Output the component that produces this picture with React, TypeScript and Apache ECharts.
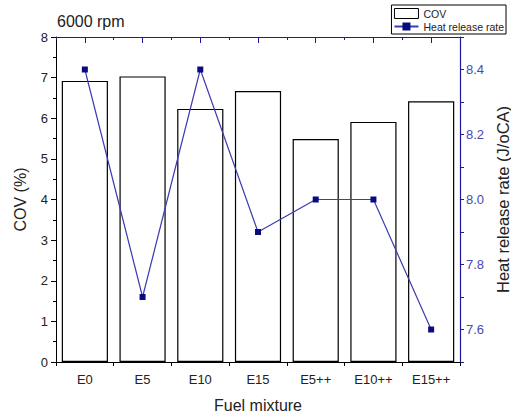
import React, { useEffect, useRef } from "react";
import * as echarts from "echarts";

const categories = ["E0", "E5", "E10", "E15", "E5++", "E10++", "E15++"];
const covValues = [6.92, 7.03, 6.23, 6.67, 5.49, 5.91, 6.42];
const heatValues = [8.4, 7.7, 8.4, 7.9, 8.0, 8.0, 7.6];

const FONT = "Liberation Sans, Arial, sans-serif";
const BLUE = "#1a1aa0";
const LINE_BLUE = "#3c3cb0";

export default function App() {
  const ref = useRef<HTMLDivElement>(null);
  useEffect(() => {
    const chart = echarts.init(ref.current!, null, { renderer: "svg" });
    chart.setOption({
      animation: false,
      textStyle: { fontFamily: FONT },
      title: {
        text: "6000 rpm",
        left: 52,
        top: 8,
        textStyle: { fontSize: 16, fontWeight: "normal", color: "#222", fontFamily: FONT },
      },
      legend: {
        orient: "vertical",
        right: 5,
        top: 5,
        padding: [3, 2, 2, 2],
        itemGap: 2,
        itemWidth: 24,
        itemHeight: 10,
        borderColor: "#000",
        borderWidth: 1,
        backgroundColor: "#fff",
        textStyle: { fontSize: 10.5, color: "#222" },
        data: [
          { name: "COV", icon: "rect", itemStyle: { color: "#fff", borderColor: "#000", borderWidth: 1 } },
          { name: "Heat release rate" },
        ],
      },
      grid: { left: 56, right: 51, top: 37, bottom: 57, containLabel: false, outerBoundsMode: "none" },
      xAxis: [
        {
          type: "category",
          data: categories,
          position: "bottom",
          axisLine: { lineStyle: { color: "#000", width: 1 } },
          axisTick: { show: true, length: 4, lineStyle: { color: "#000" } },
          axisLabel: { fontSize: 13, color: "#222", margin: 11 },
          name: "Fuel mixture",
          nameLocation: "middle",
          nameGap: 35,
          nameTextStyle: { fontSize: 16, color: "#222" },
        },
        {
          type: "category",
          data: categories,
          position: "top",
          axisLine: { lineStyle: { color: BLUE, width: 1.2 } },
          axisTick: { show: true, inside: true, length: 3, lineStyle: { color: BLUE } },
          axisLabel: { show: false },
        },
        {
          type: "category",
          data: categories,
          position: "top",
          axisLine: { show: false },
          axisTick: { show: true, inside: true, alignWithLabel: true, length: 6, lineStyle: { color: BLUE } },
          axisLabel: { show: false },
        },
      ],
      yAxis: [
        {
          type: "value",
          min: 0,
          max: 8,
          interval: 1,
          position: "left",
          axisLine: { show: true, lineStyle: { color: "#000" } },
          axisTick: { show: true, length: 5, lineStyle: { color: "#000" } },
          minorTick: { show: true, splitNumber: 2, length: 3, lineStyle: { color: "#000" } },
          splitLine: { show: false },
          axisLabel: { fontSize: 13, color: "#222", margin: 8 },
          name: "COV (%)",
          nameLocation: "middle",
          nameGap: 28,
          nameTextStyle: { fontSize: 16, color: "#222" },
        },
        {
          type: "value",
          min: 7.5,
          max: 8.5,
          interval: 0.1,
          position: "right",
          axisLine: { show: true, lineStyle: { color: BLUE, width: 1.2 } },
          axisTick: { show: true, length: 4, lineStyle: { color: BLUE } },
          splitLine: { show: false },
          axisLabel: {
            fontSize: 13,
            color: "#4848b8",
            margin: 6,
            formatter: (v: number) => {
              const k = Math.round(v * 10);
              return k % 2 === 0 ? (k / 10).toFixed(1) : "";
            },
          },
          name: "Heat release rate (J/oCA)",
          nameLocation: "middle",
          nameGap: 32,
          nameRotate: 90,
          nameTextStyle: { fontSize: 16.5, color: "#222" },
        },
      ],
      series: [
        {
          name: "COV",
          type: "bar",
          xAxisIndex: 0,
          yAxisIndex: 0,
          data: covValues,
          barCategoryGap: "20%",
          itemStyle: { color: "#fff", borderColor: "#000", borderWidth: 1.2 },
        },
        {
          name: "Heat release rate",
          type: "line",
          xAxisIndex: 0,
          yAxisIndex: 1,
          data: heatValues,
          symbol: "rect",
          symbolSize: 6,
          lineStyle: { color: LINE_BLUE, width: 1.2 },
          itemStyle: { color: "#0a0a80" },
        },
      ],
    });
    return () => chart.dispose();
  }, []);
  return (
    <div
      ref={ref}
      style={{ position: "absolute", left: 0, top: 0, width: 511, height: 419 }}
    />
  );
}
